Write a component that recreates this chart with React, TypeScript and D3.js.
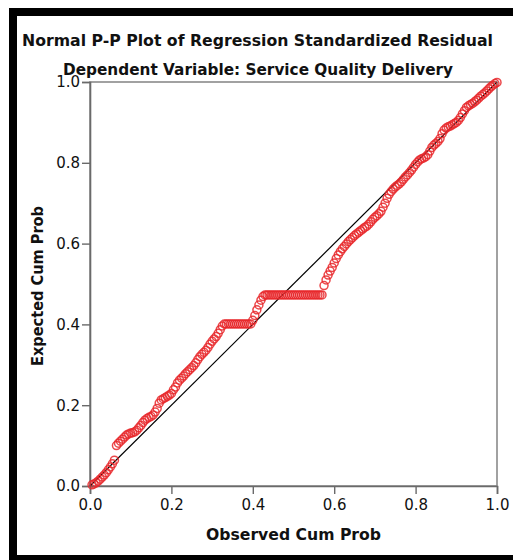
import { useRef, useEffect } from "react";
import * as d3 from "d3";

// observed cumulative probability (x) and expected cumulative probability (y)
const observed = [
  0.005, 0.01, 0.015, 0.02, 0.025, 0.03, 0.035, 0.04, 0.045, 0.05, 0.055, 0.06,
  0.065, 0.07, 0.075, 0.08, 0.085, 0.09, 0.095, 0.1, 0.105, 0.11, 0.115, 0.12,
  0.125, 0.13, 0.135, 0.14, 0.145, 0.15, 0.155, 0.16, 0.165, 0.17, 0.175, 0.18,
  0.185, 0.19, 0.195, 0.2, 0.205, 0.21, 0.215, 0.22, 0.225, 0.23, 0.235, 0.24,
  0.245, 0.25, 0.255, 0.26, 0.265, 0.27, 0.275, 0.28, 0.285, 0.29, 0.295, 0.3,
  0.305, 0.31, 0.315, 0.32, 0.325, 0.33, 0.335, 0.34, 0.345, 0.35, 0.355, 0.36,
  0.365, 0.37, 0.375, 0.38, 0.385, 0.39, 0.395, 0.4, 0.405, 0.41, 0.415, 0.42,
  0.425, 0.43, 0.435, 0.44, 0.445, 0.45, 0.455, 0.46, 0.465, 0.47, 0.475, 0.48,
  0.485, 0.49, 0.495, 0.5, 0.505, 0.51, 0.515, 0.52, 0.525, 0.53, 0.535, 0.54,
  0.545, 0.55, 0.555, 0.56, 0.565, 0.57, 0.575, 0.58, 0.585, 0.59, 0.595, 0.6,
  0.605, 0.61, 0.615, 0.62, 0.625, 0.63, 0.635, 0.64, 0.645, 0.65, 0.655, 0.66,
  0.665, 0.67, 0.675, 0.68, 0.685, 0.69, 0.695, 0.7, 0.705, 0.71, 0.715, 0.72,
  0.725, 0.73, 0.735, 0.74, 0.745, 0.75, 0.755, 0.76, 0.765, 0.77, 0.775, 0.78,
  0.785, 0.79, 0.795, 0.8, 0.805, 0.81, 0.815, 0.82, 0.825, 0.83, 0.835, 0.84,
  0.845, 0.85, 0.855, 0.86, 0.865, 0.87, 0.875, 0.88, 0.885, 0.89, 0.895, 0.9,
  0.905, 0.91, 0.915, 0.92, 0.925, 0.93, 0.935, 0.94, 0.945, 0.95, 0.955, 0.96,
  0.965, 0.97, 0.975, 0.98, 0.985, 0.99, 0.995, 1.0,
];

const expected = [
  0.003, 0.005, 0.008, 0.012, 0.017, 0.022, 0.027, 0.033, 0.04, 0.047, 0.055, 0.064,
  0.1, 0.106, 0.111, 0.116, 0.121, 0.126, 0.129, 0.131, 0.132, 0.134, 0.138, 0.144,
  0.15, 0.157, 0.163, 0.167, 0.17, 0.172, 0.176, 0.183, 0.192, 0.205, 0.213, 0.216,
  0.219, 0.222, 0.225, 0.229, 0.238, 0.245, 0.255, 0.262, 0.267, 0.272, 0.278, 0.283,
  0.288, 0.293, 0.298, 0.305, 0.313, 0.32, 0.326, 0.331, 0.336, 0.343, 0.351, 0.358,
  0.364, 0.37, 0.378, 0.387, 0.396, 0.401, 0.401, 0.401, 0.401, 0.401, 0.401, 0.401,
  0.401, 0.401, 0.401, 0.401, 0.401, 0.401, 0.401, 0.41, 0.422, 0.436, 0.448, 0.46,
  0.469, 0.473, 0.473, 0.473, 0.473, 0.473, 0.473, 0.473, 0.473, 0.473, 0.473, 0.473,
  0.473, 0.473, 0.473, 0.473, 0.473, 0.473, 0.473, 0.473, 0.473, 0.473, 0.473, 0.473,
  0.473, 0.473, 0.473, 0.473, 0.473, 0.473, 0.496, 0.51, 0.522, 0.532, 0.541, 0.552,
  0.563, 0.572, 0.58, 0.587, 0.593, 0.599, 0.605, 0.61, 0.615, 0.62, 0.624, 0.628,
  0.632, 0.636, 0.64, 0.643, 0.648, 0.654, 0.66, 0.665, 0.669, 0.674, 0.68, 0.69,
  0.7, 0.712, 0.722, 0.729, 0.735, 0.74, 0.744, 0.748, 0.753, 0.759, 0.765, 0.77,
  0.776, 0.782, 0.789, 0.796, 0.802, 0.807, 0.81, 0.812, 0.815, 0.82, 0.829, 0.838,
  0.844, 0.848, 0.853, 0.86, 0.872, 0.881, 0.886, 0.889, 0.891, 0.894, 0.897, 0.9,
  0.905, 0.912, 0.921, 0.929, 0.937, 0.941, 0.944, 0.947, 0.951, 0.955, 0.96, 0.965,
  0.969, 0.973, 0.978, 0.983, 0.988, 0.992, 0.996, 0.999,
];

const tickValues = [0, 0.2, 0.4, 0.6, 0.8, 1.0];

const title = "Normal P-P Plot of Regression Standardized Residual";
const subtitle = "Dependent Variable: Service Quality Delivery";
const xLabel = "Observed Cum Prob";
const yLabel = "Expected Cum Prob";

const width = 513;
const height = 560;
const margin = { top: 82, right: 16, bottom: 74, left: 90 };
const font = "'DejaVu Sans', sans-serif";

const App = () => {
  const svgRef = useRef(null);

  useEffect(() => {
    const svg = d3.select(svgRef.current);
    svg.selectAll("*").remove();

    // black frame (left, top, bottom)
    svg.append("rect").attr("x", 9).attr("y", 8).attr("width", 504).attr("height", 8).attr("fill", "#000");
    svg.append("rect").attr("x", 9).attr("y", 8).attr("width", 8).attr("height", 552).attr("fill", "#000");
    svg.append("rect").attr("x", 9).attr("y", 555).attr("width", 504).attr("height", 5).attr("fill", "#000");

    const x = d3.scaleLinear().domain([0, 1]).range([margin.left, width - margin.right]);
    const y = d3.scaleLinear().domain([0, 1]).range([height - margin.bottom, margin.top]);

    // plot frame
    svg
      .append("rect")
      .attr("x", x(0))
      .attr("y", y(1))
      .attr("width", x(1) - x(0))
      .attr("height", y(0) - y(1))
      .attr("fill", "none")
      .attr("stroke", "#8a8a8a")
      .attr("stroke-width", 1.6);

    const xAxis = svg
      .append("g")
      .attr("transform", `translate(0,${y(0)})`)
      .call(d3.axisBottom(x).tickValues(tickValues).tickFormat(d3.format(".1f")).tickSize(8).tickPadding(5));

    const yAxis = svg
      .append("g")
      .attr("transform", `translate(${x(0)},0)`)
      .call(d3.axisLeft(y).tickValues(tickValues).tickFormat(d3.format(".1f")).tickSize(8).tickPadding(2));

    [xAxis, yAxis].forEach((g) => {
      g.select(".domain").attr("stroke", "#6a6a6a").attr("stroke-width", 1.6);
      g.selectAll(".tick line").attr("stroke", "#6a6a6a").attr("stroke-width", 1.4);
      g.selectAll(".tick text")
        .attr("fill", "#111")
        .style("font-family", font)
        .style("font-size", "15px");
    });

    // reference diagonal
    svg
      .append("line")
      .attr("x1", x(0))
      .attr("y1", y(0))
      .attr("x2", x(1))
      .attr("y2", y(1))
      .attr("stroke", "#000")
      .attr("stroke-width", 1.2);

    const points = observed.map((o, i) => ({ o, e: expected[i] }));

    svg
      .append("g")
      .selectAll("circle")
      .data(points)
      .enter()
      .append("circle")
      .attr("cx", (d) => x(d.o))
      .attr("cy", (d) => y(d.e))
      .attr("r", 4)
      .attr("fill", "none")
      .attr("stroke", "#e8282c")
      .attr("stroke-opacity", 0.85)
      .attr("stroke-width", 1.5);

    // titles
    svg
      .append("text")
      .attr("x", 257.5)
      .attr("y", 46)
      .attr("text-anchor", "middle")
      .attr("textLength", 471)
      .attr("lengthAdjust", "spacingAndGlyphs")
      .style("font-family", font)
      .style("font-weight", "bold")
      .style("font-size", "16px")
      .attr("fill", "#111")
      .text(title);

    svg
      .append("text")
      .attr("x", 258)
      .attr("y", 75)
      .attr("text-anchor", "middle")
      .attr("textLength", 390)
      .attr("lengthAdjust", "spacingAndGlyphs")
      .style("font-family", font)
      .style("font-weight", "bold")
      .style("font-size", "16px")
      .attr("fill", "#111")
      .text(subtitle);

    svg
      .append("text")
      .attr("x", (x(0) + x(1)) / 2)
      .attr("y", 540)
      .attr("text-anchor", "middle")
      .attr("textLength", 175)
      .attr("lengthAdjust", "spacingAndGlyphs")
      .style("font-family", font)
      .style("font-weight", "bold")
      .style("font-size", "16px")
      .attr("fill", "#111")
      .text(xLabel);

    svg
      .append("text")
      .attr("transform", `translate(43,${(y(0) + y(1)) / 2 + 2}) rotate(-90)`)
      .attr("text-anchor", "middle")
      .attr("textLength", 160)
      .attr("lengthAdjust", "spacingAndGlyphs")
      .style("font-family", font)
      .style("font-weight", "bold")
      .style("font-size", "16px")
      .attr("fill", "#111")
      .text(yLabel);
  }, []);

  return (
    <svg
      ref={svgRef}
      width={width}
      height={height}
      style={{ position: "absolute", left: 0, top: 0, background: "#fff" }}
    ></svg>
  );
};

export default App;
